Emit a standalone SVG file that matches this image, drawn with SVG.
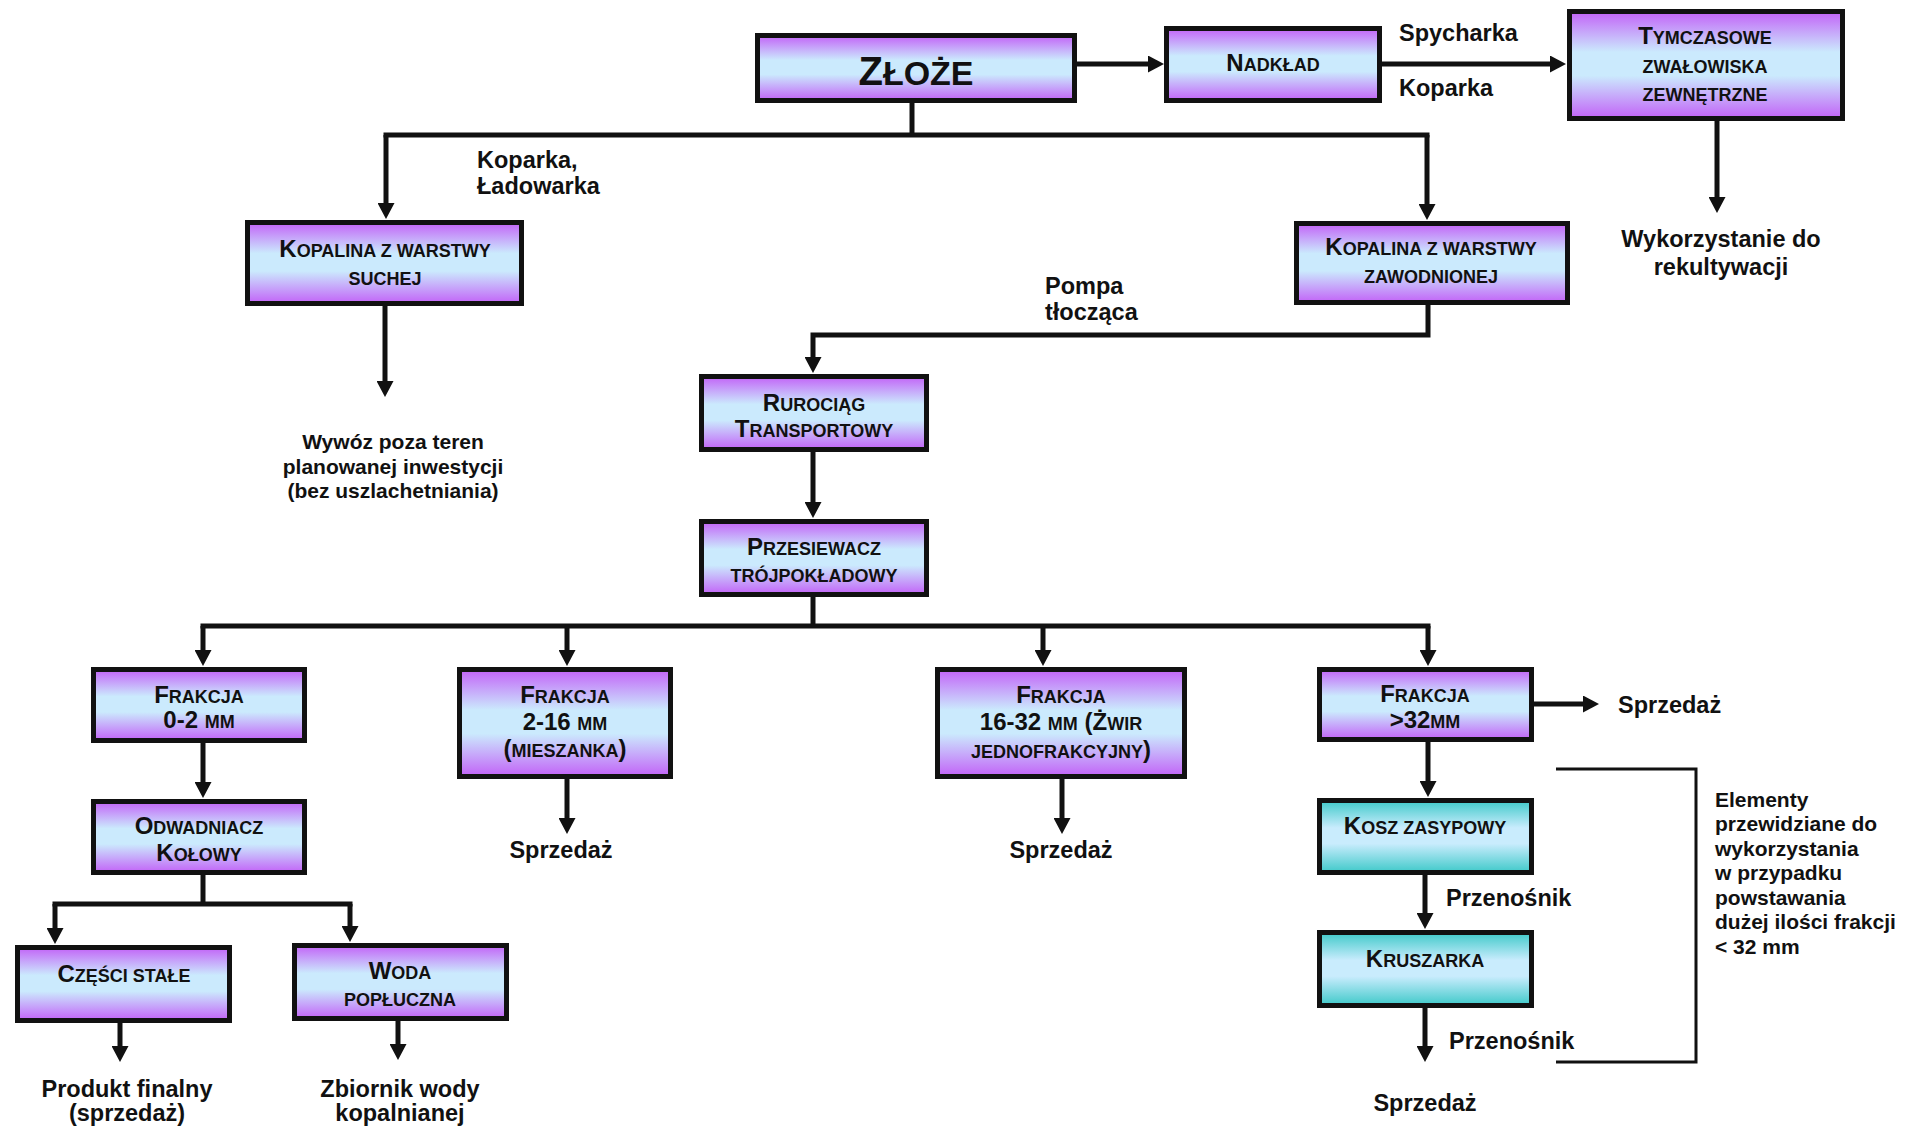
<svg xmlns="http://www.w3.org/2000/svg" width="1921" height="1133" viewBox="0 0 1921 1133">
<defs>
<linearGradient id="gp" x1="0" y1="0" x2="0" y2="1">
<stop offset="0" stop-color="#c262f7"/><stop offset="0.38" stop-color="#cbeafd"/><stop offset="0.6" stop-color="#cbeafd"/><stop offset="1" stop-color="#c262f7"/>
</linearGradient>
<linearGradient id="gt" x1="0" y1="0" x2="0" y2="1">
<stop offset="0" stop-color="#3ec9c9"/><stop offset="0.38" stop-color="#c9ecfd"/><stop offset="0.6" stop-color="#c9ecfd"/><stop offset="1" stop-color="#3ec9c9"/>
</linearGradient>
<marker id="ah" viewBox="0 0 16 17" refX="1" refY="8.5" markerWidth="16" markerHeight="17" orient="auto" markerUnits="userSpaceOnUse">
<path d="M0,0 L16,8.5 L0,17 z" fill="#111"/>
</marker>
</defs>
<style>
.box{stroke:#111;stroke-width:5}
.pu{fill:url(#gp)}
.tl{fill:url(#gt)}
text{font-family:"Liberation Sans",Arial,sans-serif;font-weight:700;fill:#111}
.bt{font-size:18px;text-anchor:middle}
.b{font-size:24px}
.lb{font-size:23.5px}
.c{text-anchor:middle}
.sm{font-size:21px}
.el{font-size:21px}
.cn{fill:none;stroke:#111;stroke-width:5}
.ar{marker-end:url(#ah)}
.br{fill:none;stroke:#111;stroke-width:3}
</style>
<rect width="1921" height="1133" fill="#fff"/>

<g id="connectors">
<path class="cn ar" d="M1077,64 H1149"/>
<path class="cn ar" d="M1382,64 H1551"/>
<path class="cn ar" d="M1717,121 V198"/>
<path class="cn" d="M912,103 V135"/>
<path class="cn" d="M383.5,135 H1429.5"/>
<path class="cn ar" d="M386,135 V204"/>
<path class="cn ar" d="M1427,135 V205"/>
<path class="cn ar" d="M385,306 V382"/>
<path class="cn ar" d="M1428,305 V335 H813 V358"/>
<path class="cn ar" d="M813,452 V503"/>
<path class="cn" d="M813,597 V626"/>
<path class="cn" d="M200.5,626 H1430.5"/>
<path class="cn ar" d="M203,626 V651"/>
<path class="cn ar" d="M567,626 V651"/>
<path class="cn ar" d="M1043,626 V651"/>
<path class="cn ar" d="M1428,626 V651"/>
<path class="cn ar" d="M203,743 V783"/>
<path class="cn" d="M203,875 V904"/>
<path class="cn" d="M52.5,904 H352.5"/>
<path class="cn ar" d="M55,904 V929"/>
<path class="cn ar" d="M350,904 V927"/>
<path class="cn ar" d="M120,1023 V1047"/>
<path class="cn ar" d="M398,1021 V1045"/>
<path class="cn ar" d="M567,779 V819"/>
<path class="cn ar" d="M1062,779 V819"/>
<path class="cn ar" d="M1534,704 H1584"/>
<path class="cn ar" d="M1428,742 V782"/>
<path class="cn ar" d="M1425,875 V914"/>
<path class="cn ar" d="M1425,1008 V1047"/>
<path class="br" d="M1556,769 H1696 V1062 H1556"/>
</g>

<g id="zloze">
<rect class="box pu" x="757.5" y="35.5" width="317" height="65"/>
<text class="c" x="916" y="85" style="font-size:34px"><tspan style="font-size:40px">Z</tspan>ŁOŻE</text>
</g>
<g id="nadklad">
<rect class="box pu" x="1166.5" y="28.5" width="213" height="72"/>
<text class="bt" x="1273" y="71"><tspan class="b">N</tspan>ADKŁAD</text>
</g>
<g id="tymczasowe">
<rect class="box pu" x="1569.5" y="11.5" width="273" height="107"/>
<text class="bt" x="1705" y="44"><tspan class="b">T</tspan>YMCZASOWE</text>
<text class="bt" x="1705" y="73">ZWAŁOWISKA</text>
<text class="bt" x="1705" y="101">ZEWNĘTRZNE</text>
</g>
<g id="kopalina-sucha">
<rect class="box pu" x="247.5" y="222.5" width="274" height="81"/>
<text class="bt" x="385" y="257"><tspan class="b">K</tspan>OPALINA Z WARSTWY</text>
<text class="bt" x="385" y="285">SUCHEJ</text>
</g>
<g id="kopalina-zawodniona">
<rect class="box pu" x="1296.5" y="223.5" width="271" height="79"/>
<text class="bt" x="1431" y="255"><tspan class="b">K</tspan>OPALINA Z WARSTWY</text>
<text class="bt" x="1431" y="283">ZAWODNIONEJ</text>
</g>
<g id="rurociag">
<rect class="box pu" x="701.5" y="376.5" width="225" height="73"/>
<text class="bt" x="814" y="411"><tspan class="b">R</tspan>UROCIĄG</text>
<text class="bt" x="814" y="437"><tspan class="b">T</tspan>RANSPORTOWY</text>
</g>
<g id="przesiewacz">
<rect class="box pu" x="701.5" y="521.5" width="225" height="73"/>
<text class="bt" x="814" y="555"><tspan class="b">P</tspan>RZESIEWACZ</text>
<text class="bt" x="814" y="582">TRÓJPOKŁADOWY</text>
</g>
<g id="frakcja-0-2">
<rect class="box pu" x="93.5" y="669.5" width="211" height="71"/>
<text class="bt" x="199" y="703"><tspan class="b">F</tspan>RAKCJA</text>
<text class="bt" x="199" y="728"><tspan class="b">0-2 </tspan>MM</text>
</g>
<g id="odwadniacz">
<rect class="box pu" x="93.5" y="801.5" width="211" height="71"/>
<text class="bt" x="199" y="834"><tspan class="b">O</tspan>DWADNIACZ</text>
<text class="bt" x="199" y="861"><tspan class="b">K</tspan>OŁOWY</text>
</g>
<g id="czesci-stale">
<rect class="box pu" x="17.5" y="947.5" width="212" height="73"/>
<text class="bt" x="124" y="982"><tspan class="b">C</tspan>ZĘŚCI STAŁE</text>
</g>
<g id="woda-popluczna">
<rect class="box pu" x="294.5" y="945.5" width="212" height="73"/>
<text class="bt" x="400" y="979"><tspan class="b">W</tspan>ODA</text>
<text class="bt" x="400" y="1006">POPŁUCZNA</text>
</g>
<g id="frakcja-2-16">
<rect class="box pu" x="459.5" y="669.5" width="211" height="107"/>
<text class="bt" x="565" y="703"><tspan class="b">F</tspan>RAKCJA</text>
<text class="bt" x="565" y="730"><tspan class="b">2-16 </tspan>MM</text>
<text class="bt" x="565" y="757"><tspan class="b">(</tspan>MIESZANKA<tspan class="b">)</tspan></text>
</g>
<g id="frakcja-16-32">
<rect class="box pu" x="937.5" y="669.5" width="247" height="107"/>
<text class="bt" x="1061" y="703"><tspan class="b">F</tspan>RAKCJA</text>
<text class="bt" x="1061" y="730"><tspan class="b">16-32 </tspan>MM<tspan class="b"> (Ż</tspan>WIR</text>
<text class="bt" x="1061" y="758">JEDNOFRAKCYJNY<tspan class="b">)</tspan></text>
</g>
<g id="frakcja-32">
<rect class="box pu" x="1319.5" y="669.5" width="212" height="70"/>
<text class="bt" x="1425" y="702"><tspan class="b">F</tspan>RAKCJA</text>
<text class="bt" x="1425" y="728"><tspan class="b">&gt;32</tspan>MM</text>
</g>
<g id="kosz-zasypowy">
<rect class="box tl" x="1319.5" y="800.5" width="212" height="72"/>
<text class="bt" x="1425" y="834"><tspan class="b">K</tspan>OSZ ZASYPOWY</text>
</g>
<g id="kruszarka">
<rect class="box tl" x="1319.5" y="932.5" width="212" height="73"/>
<text class="bt" x="1425" y="967"><tspan class="b">K</tspan>RUSZARKA</text>
</g>

<g id="labels">
<text class="lb" x="1399" y="41">Spycharka</text>
<text class="lb" x="1399" y="96">Koparka</text>
<text class="lb" x="477" y="168">Koparka,</text>
<text class="lb" x="477" y="194">Ładowarka</text>
<text class="lb" x="1045" y="294">Pompa</text>
<text class="lb" x="1045" y="320">tłocząca</text>
<text class="lb c" x="1721" y="247">Wykorzystanie do</text>
<text class="lb c" x="1721" y="275">rekultywacji</text>
<text class="sm c" x="393" y="449">Wywóz poza teren</text>
<text class="sm c" x="393" y="474">planowanej inwestycji</text>
<text class="sm c" x="393" y="498">(bez uszlachetniania)</text>
<text class="lb c" x="561" y="858">Sprzedaż</text>
<text class="lb c" x="1061" y="858">Sprzedaż</text>
<text class="lb" x="1618" y="713">Sprzedaż</text>
<text class="lb" x="1446" y="906">Przenośnik</text>
<text class="lb" x="1449" y="1049">Przenośnik</text>
<text class="lb c" x="1425" y="1111">Sprzedaż</text>
<text class="lb c" x="127" y="1097">Produkt finalny</text>
<text class="lb c" x="127" y="1121">(sprzedaż)</text>
<text class="lb c" x="400" y="1097">Zbiornik wody</text>
<text class="lb c" x="400" y="1121">kopalnianej</text>
<text class="el" x="1715" y="807">Elementy</text>
<text class="el" x="1715" y="831">przewidziane do</text>
<text class="el" x="1715" y="856">wykorzystania</text>
<text class="el" x="1715" y="880">w przypadku</text>
<text class="el" x="1715" y="905">powstawania</text>
<text class="el" x="1715" y="929">dużej ilości frakcji</text>
<text class="el" x="1715" y="954">&lt; 32 mm</text>
</g>
</svg>
